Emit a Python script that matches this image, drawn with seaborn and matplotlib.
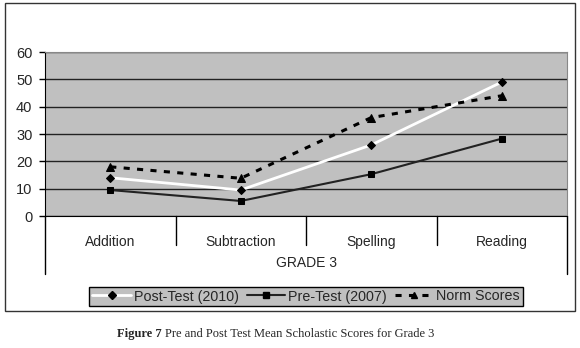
import pandas as pd
import seaborn as sns
import matplotlib.pyplot as plt
from matplotlib.patches import Rectangle
from matplotlib.lines import Line2D
import matplotlib.transforms as mtransforms

# Данные графика
subjects = ['Addition', 'Subtraction', 'Spelling', 'Reading']
post_test = [14, 9.5, 26, 49]
pre_test = [9.5, 5.5, 15.3, 28.3]
norm_scores = [18, 13.8, 36, 44]
group_label = 'GRADE 3'
y_ticks = [0, 10, 20, 30, 40, 50, 60]

sns.set_style('white')
plt.rcParams['font.family'] = ['Liberation Sans', 'DejaVu Sans']

df = pd.DataFrame({'subject': subjects, 'post': post_test,
                   'pre': pre_test, 'norm': norm_scores})

fig = plt.figure(figsize=(5.8, 3.48), dpi=100)
ax = fig.add_axes([45 / 580, 1 - 216 / 348, 522 / 580, 164 / 348])
ax.set_facecolor('#c0c0c0')

# Стили линий
dash = (0, (2.0, 2.4))

sns.lineplot(data=df, x='subject', y='post', ax=ax, color='white', lw=2,
             marker='D', markersize=4.5, markerfacecolor='black',
             markeredgecolor='black', sort=False)
sns.lineplot(data=df, x='subject', y='pre', ax=ax, color='#222222', lw=1.5,
             marker='s', markersize=5, markerfacecolor='black',
             markeredgecolor='black', sort=False)
sns.lineplot(data=df, x='subject', y='norm', ax=ax, color='black', lw=2.2,
             linestyle=dash, marker='^', markersize=6,
             markerfacecolor='black', markeredgecolor='black', sort=False)

ax.set_xlim(-0.5, len(subjects) - 0.5)
ax.set_ylim(0, 60)
ax.set_yticks(y_ticks)
ax.yaxis.grid(True, color='#222222', lw=1)
ax.set_axisbelow(True)
ax.tick_params(axis='y', length=4, width=1, color='black', labelsize=10.5,
               pad=5, left=True)
ax.tick_params(axis='x', length=0, labelsize=10, pad=14)
ax.set_xlabel('')
ax.set_ylabel('')

for side in ['top', 'right']:
    ax.spines[side].set_color('#888888')
ax.spines['left'].set_color('black')
ax.spines['bottom'].set_color('black')

# Разделители категорий под осью
trans = mtransforms.blended_transform_factory(ax.transData, fig.transFigure)
y_axis = 1 - 216 / 348
for i in range(len(subjects) + 1):
    x = i - 0.5
    bottom = 1 - 274 / 348 if i in (0, len(subjects)) else 1 - 245 / 348
    ax.add_line(Line2D([x, x], [y_axis, bottom], transform=trans,
                       color='black', lw=1, clip_on=False))

fig.text(306 / 580, 1 - 263 / 348, group_label, ha='center', va='center',
         fontsize=10)

# Легенда
handles = [
    Line2D([], [], color='white', lw=2, marker='D', markersize=4.5,
           markerfacecolor='black', markeredgecolor='black'),
    Line2D([], [], color='#222222', lw=1.5, marker='s', markersize=5,
           markerfacecolor='black', markeredgecolor='black'),
    Line2D([], [], color='black', lw=2.2, linestyle=dash,
           marker='^', markersize=5, markerfacecolor='black',
           markeredgecolor='black'),
]
leg = fig.legend(handles, ['Post-Test (2010)', 'Pre-Test (2007)', 'Norm Scores'],
                 loc='center', bbox_to_anchor=(306 / 580, 1 - 296.5 / 348),
                 ncol=3, fontsize=10.3, frameon=True, fancybox=False,
                 handlelength=2.7, handletextpad=0.2, columnspacing=0.55,
                 borderpad=0.2, borderaxespad=0)
leg.get_frame().set_facecolor('#c0c0c0')
leg.get_frame().set_edgecolor('black')
leg.get_frame().set_linewidth(1)
leg.get_frame().set_alpha(1)

# Внешняя рамка
fig.patches.append(Rectangle((5 / 580, 1 - 311 / 348), 570 / 580, 308 / 348,
                             transform=fig.transFigure, fill=False,
                             edgecolor='#333333', lw=1))

# Подпись рисунка
fig.text(162 / 580, 1 - 334 / 348, 'Figure 7', ha='right', va='center',
         fontsize=9, fontweight='bold', family='Liberation Serif')
fig.text(165 / 580, 1 - 334 / 348,
         'Pre and Post Test Mean Scholastic Scores for Grade 3',
         ha='left', va='center', fontsize=9, family='Liberation Serif')

plt.savefig('out.png', dpi=100)
